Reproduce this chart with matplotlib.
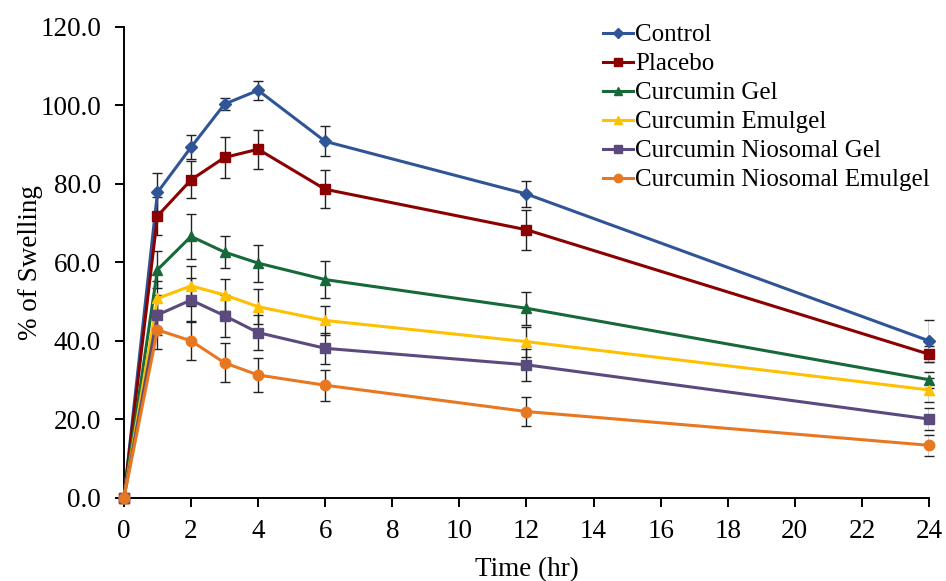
import numpy as np
import matplotlib.pyplot as plt

plt.rcParams['font.family'] = ['Liberation Serif', 'DejaVu Serif']

time = [0, 1, 2, 3, 4, 6, 12, 24]
labels = ['Control', 'Placebo', 'Curcumin Gel', 'Curcumin Emulgel',
          'Curcumin Niosomal Gel', 'Curcumin Niosomal Emulgel']

control = [0, 77.8, 89.3, 100.3, 103.8, 90.8, 77.4, 40.0]
placebo = [0, 71.8, 81.0, 86.7, 88.8, 78.6, 68.3, 36.6]
gel = [0, 58.1, 66.6, 62.6, 59.8, 55.6, 48.3, 30.1]
emulgel = [0, 50.8, 54.0, 51.7, 48.7, 45.2, 39.8, 27.5]
nio_gel = [0, 46.6, 50.4, 46.4, 42.1, 38.1, 33.9, 20.1]
nio_emulgel = [0, 42.8, 40.0, 34.4, 31.3, 28.7, 22.0, 13.4]

control_err = [0, 5.0, 3.0, 1.5, 2.5, 3.8, 3.2, 5.4]
placebo_err = [0, 4.8, 4.7, 5.2, 5.0, 4.8, 5.1, 2.0]
gel_err = [0, 4.7, 5.7, 4.0, 4.7, 4.8, 4.2, 2.0]
emulgel_err = [0, 4.5, 5.0, 4.0, 4.5, 3.8, 3.8, 3.0]
nio_gel_err = [0, 5.0, 5.5, 5.3, 4.5, 4.0, 4.0, 2.8]
nio_emulgel_err = [0, 5.0, 5.0, 5.0, 4.3, 3.9, 3.8, 2.7]

series = [control, placebo, gel, emulgel, nio_gel, nio_emulgel]
errors = [control_err, placebo_err, gel_err, emulgel_err, nio_gel_err, nio_emulgel_err]
colors = ['#2F5597', '#8B0000', '#17693A', '#FFC000', '#5B4A7D', '#E87722']
markers = ['D', 's', '^', '^', 's', 'o']
msizes = [6, 7.5, 7.5, 7.5, 7.5, 7.5]

fs = 19.5
fig = plt.figure(figsize=(9.46, 5.81), dpi=100)
ax = fig.add_axes([0.131, 0.143, 0.851, 0.811])

for y, e, c, m, ms, lab in zip(series, errors, colors, markers, msizes, labels):
    ax.errorbar(time, y, yerr=e, fmt='none', ecolor='#222222', elinewidth=1.0,
                capsize=3.5, capthick=1.0, zorder=2)
    ax.plot(time, y, color=c, marker=m, markersize=ms, linewidth=2.2,
            label=lab, zorder=3)

ax.set_xlim(0, 24)
ax.set_ylim(0, 120)
ax.set_xticks(np.arange(0, 25, 2))
ax.set_yticks(np.arange(0, 121, 20))
ax.set_yticklabels([f'{v:.1f}' for v in np.arange(0, 121, 20)])
ax.tick_params(direction='out', length=6.5, width=1.4, labelsize=fs, color='black')
ax.tick_params(axis='y', pad=10)
ax.tick_params(axis='x', pad=9)
for s in ['top', 'right']:
    ax.spines[s].set_visible(False)
for s in ['left', 'bottom']:
    ax.spines[s].set_linewidth(1.4)
ax.set_xlabel('Time (hr)', fontsize=fs)
ax.set_ylabel('% of Swelling', fontsize=fs)
ax.xaxis.set_label_coords(0.5, -0.125)
ax.yaxis.set_label_coords(-0.1, 0.5)
for line in ax.get_lines():
    line.set_clip_on(False)

ax.legend(loc='upper left', bbox_to_anchor=(0.595, 1.006), frameon=False,
          fontsize=18, handlelength=1.2, handletextpad=0.08, labelspacing=0.26,
          borderaxespad=0, borderpad=0, markerscale=0.8)

fig.savefig('out.png', dpi=100)
